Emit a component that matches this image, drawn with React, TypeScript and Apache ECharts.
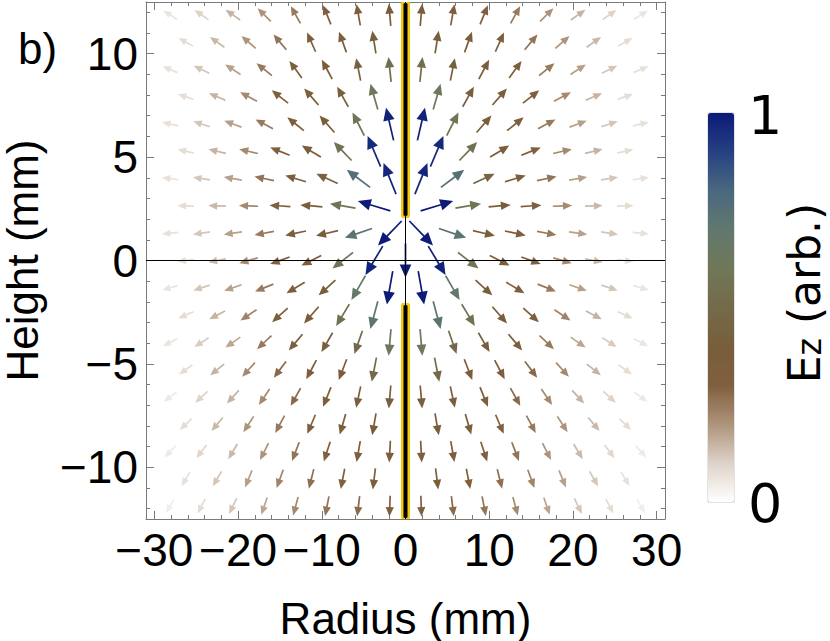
import React, { useEffect, useRef } from 'react';
import * as echarts from 'echarts';

// Row heights (mm) of the arrow grid, top to bottom
const rowY = [11.88, 10.56, 9.24, 7.92, 6.6, 5.28, 3.96, 2.64, 1.32, 0, -1.32, -2.64, -3.96, -5.28, -6.6, -7.92, -9.24, -10.56, -11.88];
// Column radii (mm) of the right half; rows alternate between the two sets
const colsA = [1.875, 5.625, 9.375, 13.125, 16.875, 20.625, 24.375, 28.125];
const colsB = [0, 3.75, 7.5, 11.25, 15, 18.75, 22.5, 26.25];

// Arrow direction (degrees, counter-clockwise from +radius) for the right half
const rowAngles: (number | null)[][] = [
  [85, 80, 68, 61, 45, 35, 35, 33],
  [null, 81, 70, 66, 50, 41, 35, 29],
  [84, 79, 62, 54, 39, 33, 26, 23],
  [null, 74, 61, 49, 38, 28, 23, 20],
  [77, 63, 49, 39, 28, 20, 18, 13],
  [null, 67, 46, 31, 22, 13, 13, 12],
  [68, 37, 25, 17, 12, 10, 9, 8],
  [null, 17, 10, 5, 4, 2, 2, 1],
  [-46, -19, -13, -12, -11, -8, -9, -6],
  [-90, -59, -38, -27, -20, -16, -11, -7],
  [-80, -60, -42, -31, -22, -19, -18, -16],
  [null, -75, -59, -49, -42, -34, -28, -24],
  [-85, -71, -60, -50, -43, -35, -33, -27],
  [null, -79, -69, -62, -53, -48, -38, -36],
  [-85, -78, -68, -61, -56, -48, -42, -36],
  [null, -80, -74, -67, -62, -57, -50, -44],
  [-87, -80, -72, -69, -63, -59, -53, -47],
  [null, -83, -79, -76, -70, -68, -60, -59],
  [-88, -83, -79, -75, -71, -64, -63, -59],
];

// Field strength Ez (arb., 0..1) for the right half
const rowStrength: (number | null)[][] = [
  [0.38, 0.34, 0.3, 0.25, 0.2, 0.15, 0.1, 0.06],
  [null, 0.42, 0.36, 0.32, 0.26, 0.2, 0.14, 0.08],
  [0.52, 0.42, 0.37, 0.32, 0.25, 0.18, 0.12, 0.07],
  [null, 0.62, 0.42, 0.36, 0.3, 0.22, 0.15, 0.08],
  [0.98, 0.58, 0.4, 0.33, 0.25, 0.18, 0.12, 0.07],
  [null, 0.96, 0.56, 0.38, 0.31, 0.22, 0.15, 0.08],
  [0.97, 0.75, 0.45, 0.35, 0.26, 0.18, 0.12, 0.07],
  [null, 1.0, 0.58, 0.38, 0.31, 0.22, 0.14, 0.08],
  [1.0, 0.72, 0.4, 0.33, 0.25, 0.18, 0.12, 0.07],
  [1.0, 0.98, 0.58, 0.38, 0.3, 0.22, 0.14, 0.08],
  [1.0, 0.68, 0.4, 0.33, 0.25, 0.18, 0.12, 0.06],
  [null, 0.72, 0.55, 0.38, 0.32, 0.23, 0.15, 0.08],
  [0.62, 0.5, 0.38, 0.33, 0.25, 0.17, 0.11, 0.06],
  [null, 0.5, 0.38, 0.34, 0.28, 0.22, 0.15, 0.08],
  [0.42, 0.36, 0.33, 0.28, 0.22, 0.15, 0.1, 0.05],
  [null, 0.37, 0.34, 0.3, 0.25, 0.2, 0.14, 0.08],
  [0.35, 0.33, 0.3, 0.26, 0.2, 0.14, 0.09, 0.05],
  [null, 0.33, 0.3, 0.27, 0.23, 0.18, 0.12, 0.07],
  [0.3, 0.28, 0.26, 0.22, 0.17, 0.12, 0.08, 0.04],
];

// Electrode rods along the axis (height ranges, mm)
const rods = [
  [2.1, 12.5],
  [-12.5, -2.1],
];

const xMajorTicks = [-30, -20, -10, 0, 10, 20, 30];
const xMinorTicks = [-30, -28, -26, -24, -22, -20, -18, -16, -14, -12, -10, -8, -6, -4, -2, 0, 2, 4, 6, 8, 10, 12, 14, 16, 18, 20, 22, 24, 26, 28, 30];
const yMajorTicks = [-10, -5, 0, 5, 10];
const yMinorTicks = [-12, -11, -10, -9, -8, -7, -6, -5, -4, -3, -2, -1, 0, 1, 2, 3, 4, 5, 6, 7, 8, 9, 10, 11, 12];

const colorStops = ['#ffffff', '#ded3c8', '#ad937a', '#805f3e', '#785e3b', '#746a4a', '#707858', '#62786e', '#4a6880', '#254182', '#0c1a78'];

const FRAME = '#7a7a7a';
const SANS = '"Liberation Sans", Arial, sans-serif';
const DEJAVU = '"DejaVu Sans", sans-serif';

function buildArrows() {
  const out: number[][] = [];
  rowY.forEach((y, r) => {
    const cols = r % 2 === 0 ? colsA : colsB;
    cols.forEach((x, j) => {
      const a = rowAngles[r][j];
      const s = rowStrength[r][j];
      if (a == null || s == null) return;
      out.push([x, y, a, s]);
      if (x !== 0) out.push([-x, y, 180 - a, s]);
    });
  });
  return out;
}

const fmt = (v: number) => (v < 0 ? '\u2212' + Math.abs(v) : String(v));

function xAxisDef(position: 'top' | 'bottom', ticks: number[], major: boolean, withLabels: boolean, withLine: boolean) {
  return {
    type: 'value', min: -31, max: 31, position,
    axisLine: { show: withLine, onZero: false, lineStyle: { color: FRAME, width: 1 } },
    axisTick: { show: true, inside: true, length: major ? 8 : 4, customValues: ticks, lineStyle: { color: FRAME, width: 1 } },
    axisLabel: withLabels
      ? { show: true, customValues: ticks, formatter: fmt, fontSize: 46, fontFamily: SANS, color: '#000', margin: 8 }
      : { show: false },
    splitLine: { show: false },
    ...(withLabels
      ? { name: 'Radius (mm)', nameLocation: 'middle', nameGap: 77, nameTextStyle: { fontSize: 44, fontFamily: SANS, color: '#000' } }
      : {}),
  };
}

function yAxisDef(position: 'left' | 'right', ticks: number[], major: boolean, withLabels: boolean, withLine: boolean) {
  return {
    type: 'value', min: -12.5, max: 12.5, position,
    axisLine: { show: withLine, onZero: false, lineStyle: { color: FRAME, width: 1 } },
    axisTick: { show: true, inside: true, length: major ? 8 : 4, customValues: ticks, lineStyle: { color: FRAME, width: 1 } },
    axisLabel: withLabels
      ? { show: true, customValues: ticks, formatter: fmt, fontSize: 46, fontFamily: SANS, color: '#000', margin: 8 }
      : { show: false },
    splitLine: { show: false },
    ...(withLabels
      ? { name: 'Height (mm)', nameLocation: 'middle', nameGap: 107, nameTextStyle: { fontSize: 44, lineHeight: 34, fontFamily: SANS, color: '#000' } }
      : {}),
  };
}

export default function App() {
  const ref = useRef<HTMLDivElement>(null);
  useEffect(() => {
    if (!ref.current) return;
    const chart = echarts.init(ref.current, undefined, { renderer: 'svg' });
    const arrows = buildArrows();
    const option: any = {
      animation: false,
      backgroundColor: '#ffffff',
      grid: { left: 146, right: 165, top: 2, bottom: 122, show: false, containLabel: false, outerBoundsMode: 'none' },
      xAxis: [
        xAxisDef('bottom', xMajorTicks, true, true, true),
        xAxisDef('bottom', xMinorTicks, false, false, false),
        xAxisDef('top', xMajorTicks, true, false, true),
        xAxisDef('top', xMinorTicks, false, false, false),
      ],
      yAxis: [
        yAxisDef('left', yMajorTicks, true, true, true),
        yAxisDef('left', yMinorTicks, false, false, false),
        yAxisDef('right', yMajorTicks, true, false, true),
        yAxisDef('right', yMinorTicks, false, false, false),
      ],
      visualMap: {
        type: 'continuous', min: 0, max: 1, dimension: 3, seriesIndex: 1,
        calculable: false, show: true, left: 708, top: 113, padding: 0,
        itemWidth: 26, itemHeight: 389, orient: 'vertical',
        inRange: { color: colorStops },
        text: ['', ''],
        textStyle: { color: 'transparent' },
      },
      graphic: [
        { type: 'text', x: 18, y: 48, style: { text: 'b)', font: '44px ' + SANS, fill: '#000', verticalAlign: 'middle', align: 'left' } },
        { type: 'rect', shape: { x: 708, y: 113, width: 26, height: 389 }, style: { fill: 'none', stroke: '#c8c8c8', lineWidth: 1 } },
        { type: 'text', x: 748, y: 115, style: { text: '1', font: '54px ' + DEJAVU, fill: '#000', verticalAlign: 'middle', align: 'left' } },
        { type: 'text', x: 748, y: 503, style: { text: '0', font: '54px ' + DEJAVU, fill: '#000', verticalAlign: 'middle', align: 'left' } },
        {
          type: 'text', x: 803, y: 293, rotation: Math.PI / 2,
          style: {
            text: '{e|E}{s|z}{n| (arb.)}', align: 'center', verticalAlign: 'middle', fill: '#000',
            rich: {
              e: { fontSize: 44, fontFamily: DEJAVU, lineHeight: 46, verticalAlign: 'bottom' },
              s: { fontSize: 33, fontFamily: DEJAVU, lineHeight: 26, verticalAlign: 'bottom' },
              n: { fontSize: 44, fontFamily: DEJAVU, lineHeight: 46, verticalAlign: 'bottom' },
            },
          },
        },
      ],
      series: [
        {
          type: 'line', data: [], z: 1, silent: true,
          markLine: {
            silent: true, symbol: 'none', label: { show: false },
            lineStyle: { color: '#000', width: 1, type: 'solid' },
            data: [{ xAxis: 0 }, { yAxis: 0 }],
          },
        },
        {
          type: 'custom', z: 2, silent: true, clip: true,
          data: arrows,
          renderItem: (params: any, api: any) => {
            const x = api.value(0);
            const y = api.value(1);
            const ang = (api.value(2) * Math.PI) / 180;
            const v = api.value(3);
            const c = api.coord([x, y]);
            const color = api.visual('color');
            const L = 15 + 19 * v;
            const ux = Math.cos(ang);
            const uy = -Math.sin(ang);
            const tail = [c[0] - (ux * L) / 2, c[1] - (uy * L) / 2];
            const tip = [c[0] + (ux * L) / 2, c[1] + (uy * L) / 2];
            const hl = 8 + 5 * v;
            const hw = 3.4 + 2.4 * v;
            const base = [tip[0] - ux * hl, tip[1] - uy * hl];
            const px = -uy;
            const py = ux;
            return {
              type: 'group',
              children: [
                { type: 'line', shape: { x1: tail[0], y1: tail[1], x2: base[0] + ux, y2: base[1] + uy }, style: { stroke: color, lineWidth: 1.7 } },
                { type: 'polygon', shape: { points: [tip, [base[0] + px * hw, base[1] + py * hw], [base[0] - px * hw, base[1] - py * hw]] }, style: { fill: color } },
              ],
            };
          },
        },
        {
          type: 'custom', z: 3, silent: true, clip: true,
          data: rods,
          renderItem: (params: any, api: any) => {
            const p1 = api.coord([0, api.value(1)]);
            const p0 = api.coord([0, api.value(0)]);
            const w = 6.5;
            return {
              type: 'rect',
              shape: { x: p1[0] - w / 2, y: p1[1], width: w, height: p0[1] - p1[1], r: 2 },
              style: { fill: '#000', stroke: '#f2c811', lineWidth: 2.5 },
            };
          },
        },
      ],
    };
    chart.setOption(option);
    return () => chart.dispose();
  }, []);
  return <div ref={ref} style={{ position: 'absolute', left: 0, top: 0, width: 830, height: 641 }} />;
}
